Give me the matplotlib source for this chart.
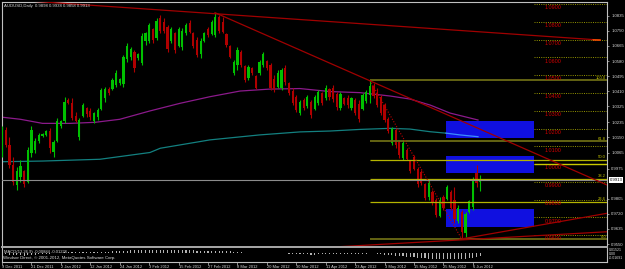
import matplotlib
matplotlib.use('Agg')
import matplotlib.pyplot as plt
from matplotlib.patches import Rectangle
from matplotlib.lines import Line2D

plt.rcParams['font.family'] = ['Liberation Sans', 'DejaVu Sans']

W, H = 625, 269

# daily AUDUSD bars, 9 Dec 2011 .. 8 Jun 2012
opens = [1.0070, 1.0190, 1.0110, 0.9995, 0.9880, 0.9930, 0.9960, 0.9900, 1.0060, 1.0080,
         1.0130, 1.0158, 1.0165, 1.0185, 1.0070, 1.0130, 1.0215, 1.0240, 1.0360, 1.0345,
         1.0270, 1.0150, 1.0270, 1.0315, 1.0300, 1.0245, 1.0265, 1.0310, 1.0370, 1.0425,
         1.0420, 1.0445, 1.0455, 1.0450, 1.0590, 1.0600, 1.0630, 1.0595, 1.0570, 1.0690,
         1.0690, 1.0760, 1.0710, 1.0820, 1.0800, 1.0770, 1.0690, 1.0735, 1.0665, 1.0660,
         1.0735, 1.0795, 1.0735, 1.0700, 1.0620, 1.0695, 1.0760, 1.0730, 1.0725, 1.0825,
         1.0800, 1.0730, 1.0665, 1.0515, 1.0560, 1.0630, 1.0550, 1.0485, 1.0540, 1.0495,
         1.0510, 1.0560, 1.0580, 1.0555, 1.0480, 1.0435, 1.0430, 1.0540, 1.0455, 1.0410,
         1.0375, 1.0290, 1.0360, 1.0325, 1.0350, 1.0310, 1.0345, 1.0400, 1.0370, 1.0420,
         1.0430, 1.0395, 1.0315, 1.0370, 1.0370, 1.0315, 1.0360, 1.0340, 1.0310, 1.0355,
         1.0390, 1.0440, 1.0400, 1.0375, 1.0330, 1.0255, 1.0120, 1.0190, 1.0125, 1.0035,
         1.0080, 1.0015, 1.0040, 0.9975, 0.9955, 0.9885, 0.9815, 0.9845, 0.9800, 0.9710,
         0.9815, 0.9805, 0.9845, 0.9800, 0.9680, 0.9730, 0.9610, 0.9730, 0.9760, 0.9950,
         0.9898]
highs = [1.0214, 1.0209, 1.0153, 1.0040, 0.9984, 1.0023, 0.9967, 1.0096, 1.0214, 1.0147,
         1.0175, 1.0175, 1.0192, 1.0203, 1.0136, 1.0260, 1.0248, 1.0378, 1.0372, 1.0372,
         1.0293, 1.0260, 1.0344, 1.0321, 1.0316, 1.0293, 1.0316, 1.0428, 1.0434, 1.0434,
         1.0484, 1.0529, 1.0484, 1.0614, 1.0681, 1.0659, 1.0642, 1.0625, 1.0738, 1.0743,
         1.0794, 1.0766, 1.0822, 1.0839, 1.0822, 1.0783, 1.0771, 1.0743, 1.0771, 1.0766,
         1.0794, 1.0811, 1.0743, 1.0715, 1.0710, 1.0743, 1.0771, 1.0811, 1.0850, 1.0839,
         1.0828, 1.0738, 1.0670, 1.0586, 1.0659, 1.0642, 1.0558, 1.0558, 1.0546, 1.0501,
         1.0586, 1.0631, 1.0586, 1.0569, 1.0501, 1.0529, 1.0541, 1.0558, 1.0462, 1.0428,
         1.0389, 1.0361, 1.0372, 1.0389, 1.0361, 1.0389, 1.0417, 1.0406, 1.0445, 1.0428,
         1.0445, 1.0406, 1.0406, 1.0378, 1.0389, 1.0378, 1.0372, 1.0361, 1.0400, 1.0417,
         1.0471, 1.0456, 1.0428, 1.0389, 1.0344, 1.0265, 1.0209, 1.0203, 1.0136, 1.0136,
         1.0091, 1.0023, 1.0051, 0.9984, 0.9967, 0.9894, 0.9910, 0.9854, 0.9810, 0.9815,
         0.9826, 0.9882, 0.9854, 0.9871, 0.9770, 0.9742, 0.9730, 0.9798, 0.9927, 0.9995,
         0.9938]
lows = [1.0040, 1.0096, 0.9978, 0.9882, 0.9854, 0.9899, 0.9871, 0.9894, 1.0040, 1.0062,
        1.0118, 1.0153, 1.0158, 1.0062, 1.0040, 1.0125, 1.0203, 1.0231, 1.0338, 1.0248,
        1.0237, 1.0136, 1.0265, 1.0265, 1.0248, 1.0231, 1.0248, 1.0304, 1.0349, 1.0389,
        1.0417, 1.0434, 1.0445, 1.0434, 1.0574, 1.0586, 1.0518, 1.0586, 1.0558, 1.0670,
        1.0681, 1.0681, 1.0698, 1.0738, 1.0738, 1.0631, 1.0681, 1.0625, 1.0659, 1.0642,
        1.0726, 1.0738, 1.0653, 1.0603, 1.0597, 1.0687, 1.0715, 1.0726, 1.0715, 1.0738,
        1.0738, 1.0659, 1.0597, 1.0501, 1.0529, 1.0546, 1.0462, 1.0473, 1.0501, 1.0422,
        1.0501, 1.0546, 1.0529, 1.0417, 1.0406, 1.0428, 1.0417, 1.0445, 1.0389, 1.0332,
        1.0293, 1.0277, 1.0304, 1.0316, 1.0260, 1.0304, 1.0332, 1.0332, 1.0361, 1.0361,
        1.0349, 1.0304, 1.0304, 1.0332, 1.0316, 1.0304, 1.0277, 1.0237, 1.0304, 1.0344,
        1.0344, 1.0372, 1.0321, 1.0277, 1.0237, 1.0175, 1.0107, 1.0091, 1.0034, 1.0023,
        1.0023, 0.9950, 0.9967, 0.9871, 0.9882, 0.9798, 0.9798, 0.9770, 0.9702, 0.9702,
        0.9742, 0.9798, 0.9742, 0.9669, 0.9669, 0.9577, 0.9590, 0.9725, 0.9742, 0.9871,
        0.9848]
closes = [1.0190, 1.0110, 0.9995, 0.9900, 0.9960, 0.9990, 0.9890, 1.0080, 1.0190, 1.0130,
          1.0165, 1.0170, 1.0185, 1.0090, 1.0125, 1.0240, 1.0240, 1.0350, 1.0345, 1.0260,
          1.0245, 1.0250, 1.0330, 1.0280, 1.0265, 1.0285, 1.0305, 1.0415, 1.0425, 1.0400,
          1.0475, 1.0515, 1.0478, 1.0600, 1.0665, 1.0650, 1.0540, 1.0620, 1.0720, 1.0735,
          1.0780, 1.0700, 1.0805, 1.0750, 1.0750, 1.0650, 1.0760, 1.0640, 1.0760, 1.0750,
          1.0785, 1.0745, 1.0665, 1.0615, 1.0690, 1.0735, 1.0725, 1.0800, 1.0830, 1.0750,
          1.0745, 1.0670, 1.0605, 1.0575, 1.0640, 1.0560, 1.0475, 1.0545, 1.0510, 1.0430,
          1.0575, 1.0620, 1.0540, 1.0430, 1.0420, 1.0515, 1.0530, 1.0460, 1.0400, 1.0345,
          1.0305, 1.0350, 1.0315, 1.0380, 1.0275, 1.0380, 1.0405, 1.0345, 1.0430, 1.0375,
          1.0365, 1.0320, 1.0395, 1.0340, 1.0330, 1.0370, 1.0290, 1.0255, 1.0390, 1.0405,
          1.0440, 1.0385, 1.0330, 1.0290, 1.0250, 1.0185, 1.0195, 1.0105, 1.0050, 1.0120,
          1.0030, 0.9960, 0.9975, 0.9885, 0.9895, 0.9810, 0.9895, 0.9780, 0.9715, 0.9800,
          0.9755, 0.9870, 0.9755, 0.9690, 0.9755, 0.9620, 0.9720, 0.9790, 0.9915, 0.9895,
          0.9913]

# MACD main line, in thousandths
macd = [-2, -3, -4, -6, -7, -7, -8, -7, -5, -4, -3, -2, -1, -1, 0, 1,
        2, 4, 5, 5, 5, 4, 5, 5, 5, 5, 5, 6, 7, 7, 8, 9,
        9, 10, 11, 12, 12, 12, 13, 13, 14, 14, 15, 15, 15, 14, 14, 13,
        13, 13, 13, 13, 12, 11, 10, 10, 10, 10, 11, 10, 10, 9, 8, 6,
        5, 4, 3, 2, 1, 1, 1, 1, 1, 0, 0, 0, 0, 0, -1, -2,
        -3, -3, -3, -3, -4, -4, -3, -3, -2, -2, -2, -2, -2, -2, -2, -2,
        -3, -3, -2, -1, 0, 0, -1, -2, -4, -6, -7, -9, -10, -11, -12, -14,
        -15, -17, -18, -19, -20, -21, -22, -22, -22, -22, -22, -22, -22, -23, -21, -19,
        -16, -12, -9]

# moving averages sampled along the curves (bar index, price)
ma_purple_x = [-0.5, 5, 11, 18.5, 25.3, 32, 40.2, 48.4, 56.5, 64.7, 72.8, 81, 89.2,
               97.3, 105.5, 110.9, 116.4, 121.8, 129.4]
ma_purple_y = [1.0265, 1.0252, 1.0229, 1.0229, 1.0235, 1.0252, 1.0299, 1.0342, 1.0379,
               1.0411, 1.0422, 1.0425, 1.0408, 1.0402, 1.0383, 1.0366, 1.0332, 1.0287, 1.0248]
ma_teal_x = [-0.5, 11, 26.6, 40.2, 43, 56.5, 70, 81, 89.2, 97.3, 105.5, 110.9, 116.4,
             120.7, 124.5, 129.4]
ma_teal_y = [1.0013, 1.0017, 1.0027, 1.0065, 1.0089, 1.0136, 1.0164, 1.0181, 1.0186, 1.0195,
             1.0201, 1.0197, 1.0182, 1.0174, 1.0164, 1.0154]

date_labels = ['9 Dec 2011', '21 Dec 2011', '2 Jan 2012', '12 Jan 2012', '24 Jan 2012',
               '3 Feb 2012', '15 Feb 2012', '27 Feb 2012', '8 Mar 2012', '20 Mar 2012',
               '30 Mar 2012', '11 Apr 2012', '23 Apr 2012', '3 May 2012', '15 May 2012',
               '25 May 2012', '6 Jun 2012']
price_ticks = [1.0835, 1.0750, 1.0665, 1.0580, 1.0495, 1.0410, 1.0325, 1.0235, 1.0150,
               1.0065, 0.9975, 0.9805, 0.9720, 0.9635, 0.9550]
round_levels = [1.09, 1.08, 1.07, 1.06, 1.05, 1.04, 1.03, 1.02, 1.01, 1.00, 0.99, 0.98, 0.97, 0.96]

fib_high, fib_low = 1.0471, 0.9577
fib_pcts = [100.0, 61.8, 50.0, 38.2, 23.6, 0.0]

# boxes (x from, x to, price low, price high)
boxes = [(120.7, 144.6, 1.0145, 1.0244),
         (120.7, 144.6, 0.9948, 1.0047),
         (120.7, 144.6, 0.9644, 0.9746)]

# trend lines (x1, p1, x2, p2)
trend_lines = [(-0.56, 1.0929, 162.6, 1.0698),
               (57.9, 1.0852, 164.5, 0.9882),
               (90.0, 0.9533, 164.5, 0.9619),
               (124.5, 0.9577, 164.5, 0.9723)]

bid = 0.9913

GREY = '#c0c0c0'
TXT = '#d8d8d8'


def fx(px):
    return px / W


def fy(py):
    return 1 - py / H


fig = plt.figure(figsize=(W / 100, H / 100), dpi=100, facecolor='black')

# ---- main price panel
ax = fig.add_axes([fx(1.7), fy(246.5), (607 - 1.7) / W, (246.5 - 1.5) / H])
ax.set_facecolor('black')
ax.set_xlim(-0.1, 164.47)
ax.set_ylim(0.9536, 1.0915)
for s in ['top', 'left', 'right']:
    ax.spines[s].set_color(GREY)
    ax.spines[s].set_linewidth(0.8)
ax.spines['bottom'].set_visible(False)
ax.set_xticks([])
ax.yaxis.tick_right()
ax.set_yticks(price_ticks)
ax.set_yticklabels([f'{p:.4f}' for p in price_ticks])
ax.tick_params(axis='y', length=1.5, width=0.5, color=GREY, pad=1.5,
               labelsize=3.1, labelcolor=TXT)

for x0, x1, lo, hi in boxes:
    ax.add_patch(Rectangle((x0, lo), x1 - x0, hi - lo, facecolor='#1010e0',
                           edgecolor='none', zorder=1))

ax.plot(ma_purple_x, ma_purple_y, color='#8b1a8b', lw=0.9, zorder=2)
ax.plot(ma_teal_x[:-2], ma_teal_y[:-2], color='#138080', lw=0.9, zorder=2)
# the part of the slow average that runs across the top box shows up light blue
ax.plot(ma_teal_x[-3:], ma_teal_y[-3:], color='#3c8cff', lw=0.9, zorder=2)

# dotted round-number levels with red labels
for lv in round_levels:
    ax.hlines(lv, 144.6, 164.47, color='#a8a800', lw=0.6, linestyles=(0, (1.2, 1.5)), zorder=2)
    ax.text(149.8, lv - 0.0021, f'{lv:.4f}', color='#d00000', fontsize=3.9,
            ha='center', va='center', zorder=5)
ax.hlines(1.0, 144.6, 164.47, color='#c8c800', lw=1.0, zorder=2)

# fibonacci retracement
for pct in fib_pcts:
    lv = fib_low + (fib_high - fib_low) * pct / 100
    heavy = pct in (100.0, 61.8, 0.0)
    ax.hlines(lv, 100, 164.47, color='#6b6b14' if heavy else '#b4b400',
              lw=1.3 if heavy else 0.9, zorder=4)
    ax.text(164.2, lv + 0.0002, f'{pct:.1f}', color='#c8c800', fontsize=3.0,
            ha='right', va='bottom', zorder=5)

# candles
for i, (o, h, l, c) in enumerate(zip(opens, highs, lows, closes)):
    col = '#00c000' if c >= o else '#b00000'
    ax.vlines(i, l, h, color=col, lw=0.8, zorder=3)
    ax.bar(i, max(abs(c - o), 0.0002), bottom=min(o, c), width=0.6, color=col,
           lw=0, zorder=3)

ax.axhline(bid, color='#8c8c8c', lw=0.8, zorder=4)

for x1, p1, x2, p2 in trend_lines:
    ax.plot([x1, x2], [p1, p2], color='#a00000', lw=0.9, zorder=5)
ax.plot([160.7, 162.6], [1.0927 + (1.0698 - 1.0929) * 161.26 / 163.16, 1.0698],
        color='#ff5a00', lw=1.0, zorder=6)
ax.plot([100, 125], [fib_high, fib_low], color='#c00000', lw=0.8,
        linestyle=(0, (1, 1.5)), zorder=5)

fig.text(fx(609.5), fy(180), f'{bid:.4f}', fontsize=3.1, color='black', va='center',
         bbox=dict(facecolor='white', edgecolor='none', pad=0.4))

fig.text(fx(3.5), fy(5.5), 'AUDUSD,Daily  0.9898 0.9938 0.9858 0.9913',
         fontsize=3.1, color=TXT, va='center')

# separator
fig.add_artist(Line2D([fx(1.7), fx(607)], [fy(247.3), fy(247.3)], color='#a8a8a8', lw=1.4))

# ---- MACD panel
ax2 = fig.add_axes([fx(1.7), fy(261.5), (607 - 1.7) / W, (261.5 - 248.3) / H])
ax2.set_facecolor('black')
ax2.set_xlim(-0.1, 164.47)
ax2.set_ylim(-0.0312, 0.0201)
for s in ['left', 'right', 'bottom']:
    ax2.spines[s].set_color(GREY)
    ax2.spines[s].set_linewidth(0.8)
ax2.spines['top'].set_visible(False)
ax2.bar(range(len(macd)), [m / 1000 for m in macd], width=0.3, color='#b4b4b4', lw=0)
ax2.yaxis.tick_right()
ax2.set_yticks([0.01521, 0.0, -0.01691])
ax2.set_yticklabels(['0.01521', '0.00', '-0.01691'])
ax2.tick_params(axis='y', length=0, pad=1.5, labelsize=2.6, labelcolor=TXT)
ax2.set_xticks(range(0, 8 * len(date_labels), 8))
ax2.set_xticklabels(date_labels)
ax2.tick_params(axis='x', length=2, width=0.5, color=GREY, pad=0.6,
                labelsize=2.9, labelcolor=TXT)
for lbl in ax2.get_xticklabels():
    lbl.set_ha('left')

fig.text(fx(3.5), fy(251.8), 'MACD(12,26,9) -0.00884 -0.01226', fontsize=3.0,
         color=TXT, va='center')
fig.text(fx(3), fy(257.6), 'Windsor Direct, \u00a9 2001-2012, MetaQuotes Software Corp.',
         fontsize=3.2, color=TXT, va='center')

fig.savefig('out.png', dpi=100, facecolor='black')
